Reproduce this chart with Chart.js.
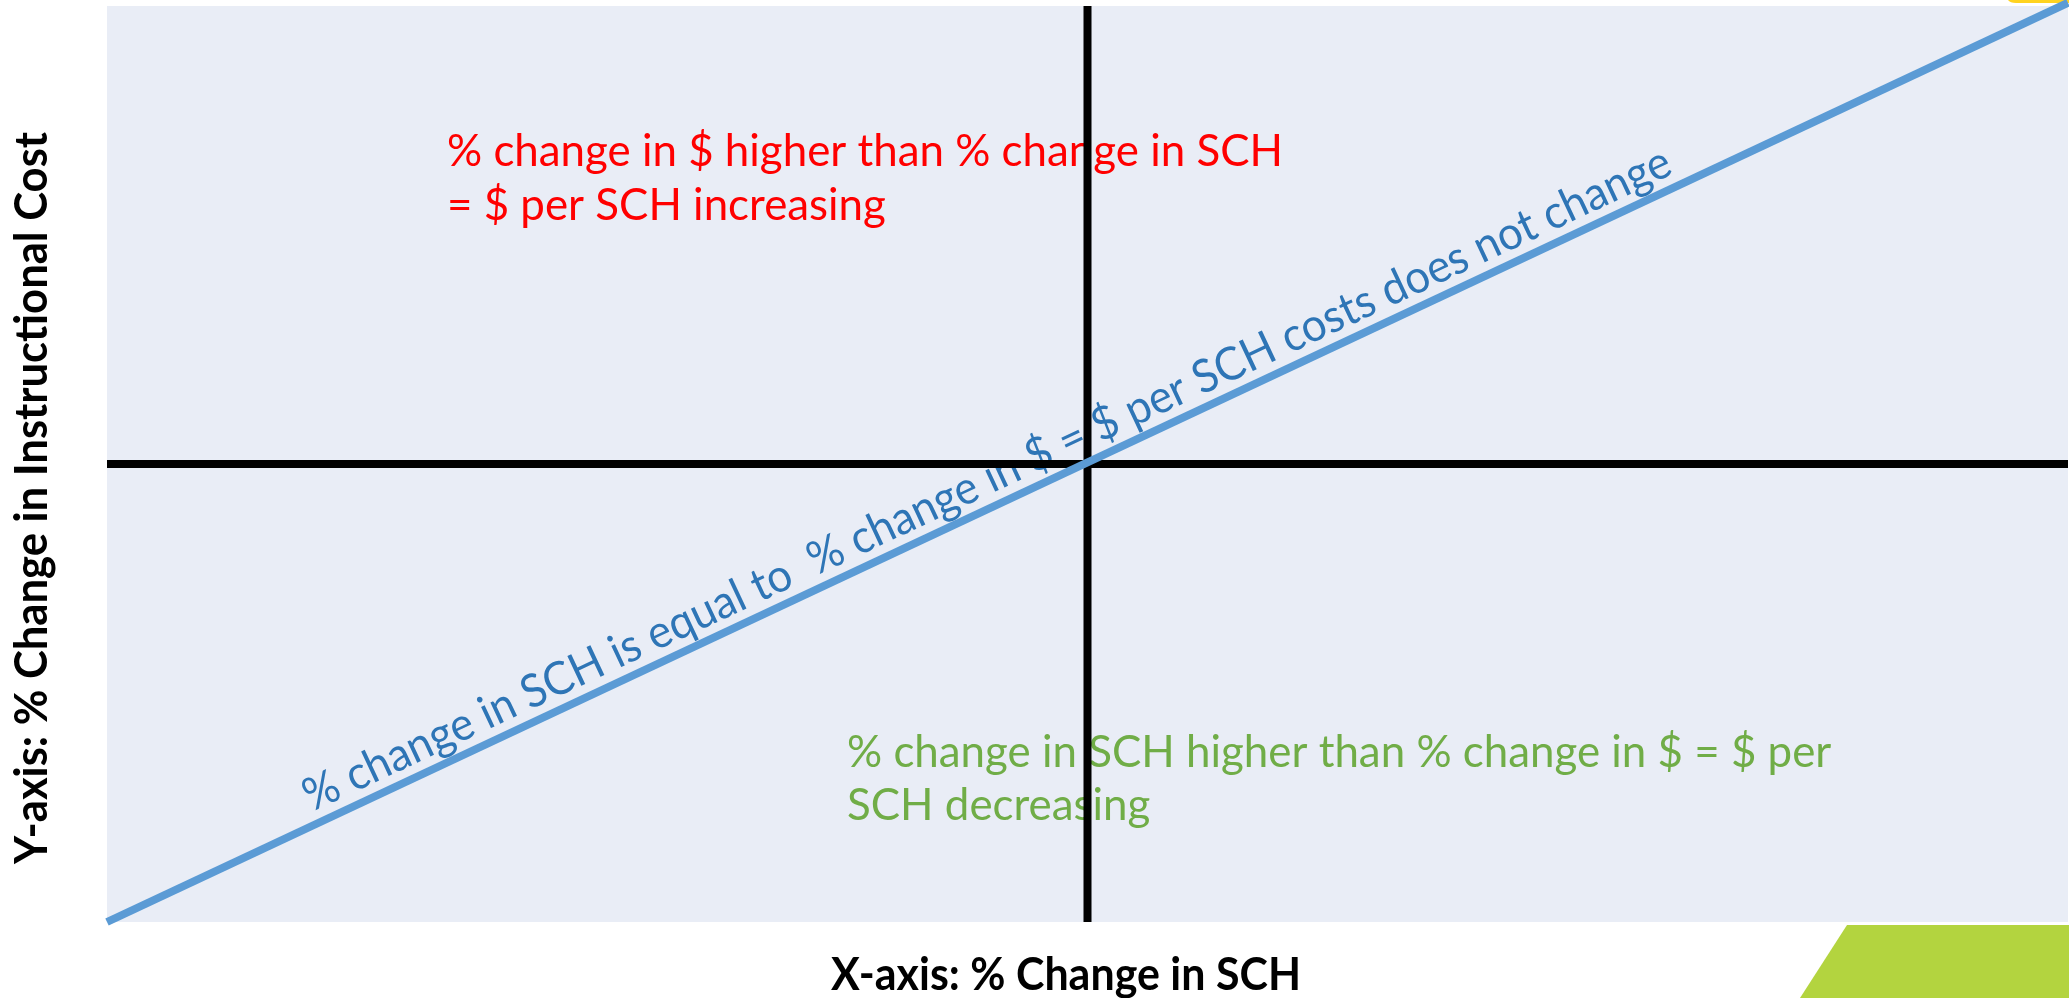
<!DOCTYPE html>
<html>
<head>
<meta charset="utf-8">
<script src="https://cdn.jsdelivr.net/npm/chart.js@4.4.1/dist/chart.umd.min.js"></script>
<style>
html,body{margin:0;padding:0;background:#fff;}
#wrap{width:2069px;height:998px;}
</style>
</head>
<body>
<div id="wrap"><canvas id="c" width="2069" height="998"></canvas></div>
<script>
// ---- data ----
const xRange = [-1, 1];
const yRange = [-1, 1];
const equalLineX = [-1, 1];
const equalLineY = [-1, 1.007];
const hAxisX = [-1, 1];
const hAxisY = [0, 0];
const vAxisX = [0, 0];
const vAxisY = [-1, 1];

const xTitle = "X-axis: % Change in SCH";
const yTitle = "Y-axis: % Change in Instructional Cost";
const redText = ["% change in $ higher than % change in SCH", "= $ per SCH increasing"];
const greenText = ["% change in SCH higher than % change in $ = $ per", "SCH decreasing"];
const blueText = "% change in SCH is equal to  % change in $ = $ per SCH costs does not change";

function pts(xs, ys){ return xs.map((x,i)=>({x:x, y:ys[i]})); }

function drawLines(ctx, lines, x, y0, lh, sx){
  lines.forEach((t,i)=>{
    ctx.save();
    ctx.translate(x, y0 + i*lh);
    ctx.scale(sx, 1);
    ctx.fillText(t, 0, 0);
    ctx.restore();
  });
}

const decor = {
  id: 'decor',
  beforeDraw(chart){
    const ctx = chart.ctx, a = chart.chartArea;
    ctx.save();
    ctx.fillStyle = '#ffffff';
    ctx.fillRect(0,0,chart.width,chart.height);
    ctx.fillStyle = '#E9EDF6';
    ctx.fillRect(a.left, a.top, a.right-a.left, a.bottom-a.top);
    // slide decorations
    ctx.fillStyle = '#B3D43F';
    ctx.beginPath();
    ctx.moveTo(1847, 925); ctx.lineTo(chart.width, 925);
    ctx.lineTo(chart.width, chart.height); ctx.lineTo(1800, chart.height);
    ctx.closePath(); ctx.fill();
    ctx.fillStyle = '#FFD320';
    ctx.beginPath();
    ctx.moveTo(2008, 0); ctx.lineTo(chart.width, 0); ctx.lineTo(chart.width, 3);
    ctx.lineTo(2016, 3); ctx.quadraticCurveTo(2010, 3, 2008, 0);
    ctx.closePath(); ctx.fill();
    // axis titles
    ctx.fillStyle = '#000000';
    ctx.textBaseline = 'alphabetic';
    ctx.font = 'bold 46px Lato';
    let w = ctx.measureText(xTitle).width;
    ctx.save();
    ctx.translate(1066, 990);
    ctx.scale(470/w, 1);
    ctx.textAlign = 'center';
    ctx.fillText(xTitle, 0, 0);
    ctx.restore();
    w = ctx.measureText(yTitle).width;
    ctx.save();
    ctx.translate(47, 498);
    ctx.rotate(-Math.PI/2);
    ctx.scale(732/w, 1);
    ctx.textAlign = 'center';
    ctx.fillText(yTitle, 0, 0);
    ctx.restore();
    ctx.restore();
  },
  beforeDatasetsDraw(chart){
    const ctx = chart.ctx;
    const xs = chart.scales.x, ys = chart.scales.y;
    ctx.save();
    ctx.textBaseline = 'alphabetic';
    ctx.textAlign = 'left';
    ctx.font = '44px Lato';
    const sx = 836 / ctx.measureText(redText[0]).width;
    ctx.fillStyle = '#FF0000';
    drawLines(ctx, redText, 447, 166, 54, sx);
    ctx.fillStyle = '#70AD47';
    drawLines(ctx, greenText, 847, 767, 53, sx);
    // blue rotated text along equality line
    const x0 = xs.getPixelForValue(equalLineX[0]), y0 = ys.getPixelForValue(equalLineY[0]);
    const x1 = xs.getPixelForValue(equalLineX[1]), y1 = ys.getPixelForValue(equalLineY[1]);
    const ang = Math.atan2(y1-y0, x1-x0);
    ctx.fillStyle = '#2E75B6';
    ctx.font = '46px Lato';
    const bw = ctx.measureText(blueText).width;
    ctx.translate(312, 812);
    ctx.rotate(ang);
    ctx.scale(1505/bw, 1);
    ctx.fillText(blueText, 0, 0);
    ctx.restore();
  }
};

new Chart(document.getElementById('c'), {
  type: 'line',
  data: {
    datasets: [
      { data: pts(equalLineX, equalLineY), borderColor: '#5B9BD5', borderWidth: 8, pointRadius: 0, clip: false, borderCapStyle: 'butt' },
      { data: pts(hAxisX, hAxisY), borderColor: '#000000', borderWidth: 8, pointRadius: 0, clip: false },
      { data: pts(vAxisX, vAxisY), borderColor: '#000000', borderWidth: 8, pointRadius: 0, clip: false }
    ]
  },
  options: {
    responsive: false,
    animation: false,
    layout: { padding: { left: 107, right: 1, top: 6, bottom: 76 } },
    plugins: { legend: { display: false }, tooltip: { enabled: false } },
    scales: {
      x: { type: 'linear', min: xRange[0], max: xRange[1], display: false },
      y: { type: 'linear', min: yRange[0], max: yRange[1], display: false }
    }
  },
  plugins: [decor]
});
</script>
</body>
</html>
